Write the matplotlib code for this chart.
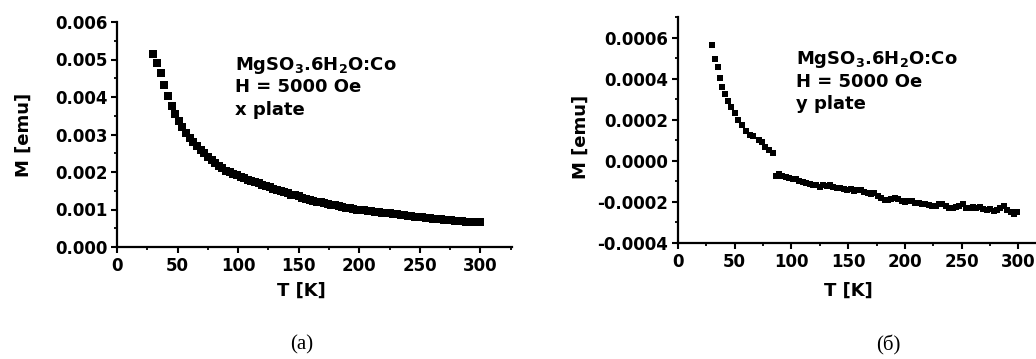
import matplotlib
matplotlib.use("Agg")
import matplotlib.pyplot as plt
from matplotlib.ticker import MultipleLocator, FormatStrFormatter

plt.rcParams["font.family"] = "DejaVu Sans"
plt.rcParams["font.weight"] = "bold"
plt.rcParams["mathtext.fontset"] = "custom"
plt.rcParams["mathtext.rm"] = "DejaVu Sans:bold"
plt.rcParams["mathtext.default"] = "rm"

# (a) x plate: temperature [K] and magnetic moment [1e-3 emu]
t_x = [30, 33, 36, 39, 42, 45, 48, 51, 54, 57, 60, 63, 66, 69, 72, 75, 78, 81,
       84, 87, 90, 93, 96, 99, 102, 105, 108, 111, 114, 117, 120, 123, 126,
       129, 132, 135, 138, 141, 144, 147, 150, 153, 156, 159, 162, 165, 168,
       171, 174, 177, 180, 183, 186, 189, 192, 195, 198, 201, 204, 207, 210,
       213, 216, 219, 222, 225, 228, 231, 234, 237, 240, 243, 246, 249, 252,
       255, 258, 261, 264, 267, 270, 273, 276, 279, 282, 285, 288, 291, 294,
       297, 300]
m_x = [5.15, 4.90, 4.63, 4.33, 4.03, 3.75, 3.54, 3.36, 3.20, 3.05, 2.92, 2.80,
       2.69, 2.59, 2.50, 2.41, 2.33, 2.24, 2.16, 2.10, 2.04, 1.99, 1.95, 1.91,
       1.87, 1.84, 1.80, 1.77, 1.73, 1.70, 1.66, 1.62, 1.59, 1.55, 1.52, 1.49,
       1.46, 1.43, 1.40, 1.38, 1.35, 1.32, 1.29, 1.26, 1.24, 1.21, 1.19, 1.17,
       1.15, 1.13, 1.11, 1.09, 1.07, 1.05, 1.04, 1.02, 1.00, 0.99, 0.98, 0.96,
       0.95, 0.94, 0.93, 0.92, 0.91, 0.90, 0.89, 0.88, 0.86, 0.85, 0.84, 0.82,
       0.81, 0.80, 0.79, 0.78, 0.77, 0.76, 0.75, 0.74, 0.73, 0.72, 0.71, 0.70,
       0.70, 0.69, 0.68, 0.67, 0.67, 0.66, 0.66]

# (б) y plate: temperature [K] and magnetic moment [1e-4 emu]
t_y = [30, 33, 35, 37, 39, 41, 44, 47, 50, 53, 56, 60, 63, 66, 71, 74, 77, 80,
       84,
       86, 89, 92, 95, 98, 101, 104, 107, 110, 113, 116, 119, 122, 125, 128,
       131, 134, 137, 140, 143, 146, 149, 152, 155, 158, 161, 164, 167, 170,
       173, 176, 179, 182, 185, 188, 191, 194, 197, 200, 203, 206, 209, 212,
       215, 218, 221, 224, 227, 230, 233, 236, 239, 242, 245, 248, 251, 254,
       257, 260, 263, 266, 269, 272, 275, 278, 281, 284, 287, 290, 293, 296,
       299]
m_y = [5.64, 4.98, 4.58, 4.05, 3.60, 3.23, 2.90, 2.63, 2.33, 1.97, 1.76, 1.44,
       1.27, 1.19, 1.03, 0.90, 0.67, 0.54, 0.38,
       -0.72, -0.62, -0.76, -0.80, -0.84, -0.90, -0.88, -0.98, -1.02, -1.10,
       -1.14, -1.20, -1.18, -1.25, -1.20, -1.22, -1.16, -1.26, -1.30, -1.34,
       -1.36, -1.40, -1.38, -1.46, -1.42, -1.44, -1.52, -1.56, -1.60, -1.55,
       -1.70, -1.80, -1.92, -1.90, -1.86, -1.82, -1.88, -1.98, -2.00, -1.96,
       -1.94, -2.05, -2.04, -2.10, -2.12, -2.15, -2.20, -2.22, -2.12, -2.08,
       -2.18, -2.28, -2.30, -2.26, -2.20, -2.12, -2.28, -2.32, -2.26, -2.30,
       -2.27, -2.34, -2.38, -2.36, -2.42, -2.40, -2.30, -2.22, -2.40, -2.48,
       -2.58, -2.50]

fig = plt.figure(figsize=(10.36, 3.59), dpi=100)
ax1 = fig.add_axes([117 / 1036, 112 / 359, 395 / 1036, 225 / 359])
ax2 = fig.add_axes([678 / 1036, 116 / 359, 370 / 1036, 226 / 359])


def style(ax):
    for s in ["top", "right"]:
        ax.spines[s].set_visible(False)
    for s in ["left", "bottom"]:
        ax.spines[s].set_linewidth(1.6)
    ax.tick_params(which="major", direction="out", length=4, width=1.5,
                   labelsize=12, pad=3)
    ax.tick_params(which="minor", direction="out", length=2.5, width=1.3)
    ax.xaxis.set_major_locator(MultipleLocator(50))
    ax.xaxis.set_minor_locator(MultipleLocator(25))
    ax.set_xlabel("T [K]", fontsize=13, fontweight="bold")
    ax.set_ylabel("M [emu]", fontsize=13, fontweight="bold")


style(ax1)
ax1.plot(t_x, [v * 1e-3 for v in m_x], "s", color="black", ms=5.5, mew=0)
ax1.set_xlim(0, 326)
ax1.set_ylim(0, 0.006)
ax1.yaxis.set_major_locator(MultipleLocator(0.001))
ax1.yaxis.set_minor_locator(MultipleLocator(0.0005))
ax1.yaxis.set_major_formatter(FormatStrFormatter("%.3f"))
ax1.xaxis.set_label_coords(0.468, -0.156)
ax1.yaxis.set_label_coords(-0.213, 0.5)
ax1.text(0.299, 0.787, r"MgSO$_3$.6H$_2$O:Co", transform=ax1.transAxes,
         fontsize=13, va="baseline")
ax1.text(0.299, 0.687, "H = 5000 Oe", transform=ax1.transAxes,
         fontsize=13, va="baseline")
ax1.text(0.299, 0.587, "x plate", transform=ax1.transAxes,
         fontsize=13, va="baseline")

style(ax2)
ax2.plot(t_y, [v * 1e-4 for v in m_y], "s", color="black", ms=4.5, mew=0)
ax2.set_xlim(0, 326)
ax2.set_ylim(-0.0004, 0.0007)
ax2.yaxis.set_major_locator(MultipleLocator(0.0002))
ax2.yaxis.set_minor_locator(MultipleLocator(0.0001))
ax2.yaxis.set_major_formatter(FormatStrFormatter("%.4f"))
ax2.xaxis.set_label_coords(0.46, -0.173)
ax2.yaxis.set_label_coords(-0.238, 0.47)
ax2.text(0.319, 0.792, r"MgSO$_3$.6H$_2$O:Co", transform=ax2.transAxes,
         fontsize=13, va="baseline")
ax2.text(0.319, 0.690, "H = 5000 Oe", transform=ax2.transAxes,
         fontsize=13, va="baseline")
ax2.text(0.319, 0.593, "y plate", transform=ax2.transAxes,
         fontsize=13, va="baseline")

fig.text(0.2915, 0.039, "(a)", family="Liberation Serif", fontweight="normal",
         fontsize=15, ha="center", va="center")
fig.text(0.857, 0.039, "(б)", family="Liberation Serif", fontweight="normal",
         fontsize=15, ha="center", va="center")

fig.savefig("out.png", dpi=100)
